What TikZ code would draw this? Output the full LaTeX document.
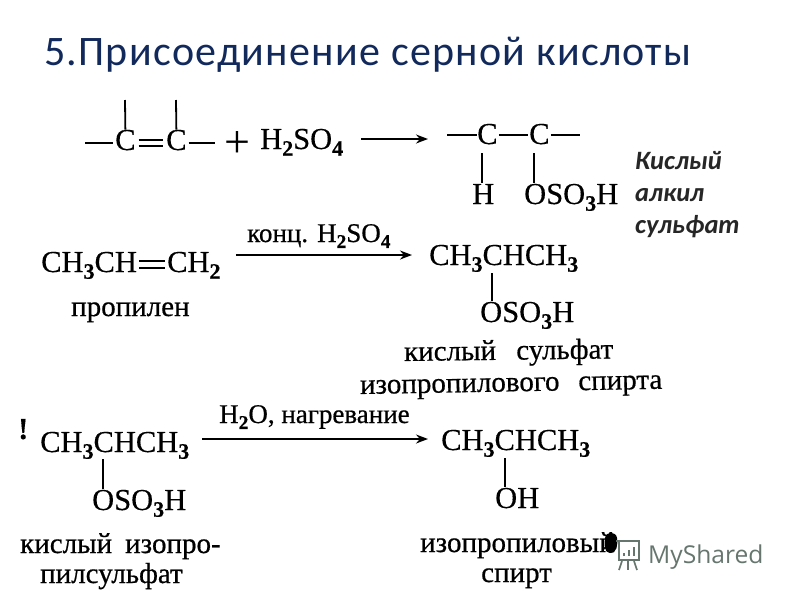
\documentclass[tikz,border=0pt]{standalone}
\usepackage{fontspec}
\setmainfont{Liberation Serif}
\newfontfamily\titlefont[LetterSpace=3]{Carlito}
\newfontfamily\notefont[BoldFont=Carlito Bold]{Carlito}
\newfontfamily\wmfont{Open Sans}
\newfontfamily\labelfont[FakeBold=0.6]{Liberation Serif}
\newfontfamily\formfont[FakeBold=0.35]{Liberation Serif}
\newcommand{\chemsub}[1]{\raisebox{-0.22em}{\scalebox{0.72}{\textbf{#1}}}}
\definecolor{titleblue}{HTML}{12295C}
\definecolor{wmgray}{HTML}{66766F}
\tikzset{
  form/.style={anchor=base west,inner sep=0pt,font=\formfont\fontsize{30.5}{32}\selectfont,text=black},
  lab/.style={anchor=base west,inner sep=0pt,font=\labelfont\fontsize{29}{32}\selectfont,text=black},
  cond/.style={anchor=base west,inner sep=0pt,font=\labelfont\fontsize{27}{30}\selectfont,text=black},
  note/.style={anchor=base west,inner sep=0pt,font=\notefont\bfseries\itshape\fontsize{26.5}{28}\selectfont,text=black!85},
  bond/.style={line width=1.8pt,black},
  react/.style={line width=1.6pt,black,-{Stealth[length=12pt,width=9pt]}},
}
\usetikzlibrary{arrows.meta}
\begin{document}
\begin{tikzpicture}[x=1pt,y=-1pt]
\useasboundingbox[fill=white] (0,0) rectangle (800,600);
\node[anchor=base west,inner sep=0pt,font=\titlefont\fontsize{42}{45}\selectfont,text=titleblue] (title) at (44,65) {5.Присоединение серной кислоты};

% --- general equation
\node[form] (c1) at (115,150) {C};
\node[form] (c2) at (166,150) {C};
\node[anchor=base west,inner sep=0pt,font=\fontsize{46}{46}\selectfont] (plus) at (224,157) {+};
\node[form] (acid) at (260,149) {H\chemsub{2}SO\chemsub{4}};
\node[form] (c3) at (477,144) {C};
\node[form] (c4) at (529,144) {C};
\node[form] (hh) at (472,204) {H};
\node[form] (oso1) at (524,204) {OSO\chemsub{3}H};
\coordinate (c1top) at (125,100);
\coordinate (c2top) at (176,100);
\coordinate (c1left) at (85,143);
\coordinate (c2right) at (215,143);
\coordinate (c3left) at (447,135);
\coordinate (c4right) at (580,135);
\draw[bond] (c1left) -- ([shift={(-2,-7)}]c1.base west);
\draw[bond] (c1.north) -- (c1top);
\draw[bond] (c2.north) -- (c2top);
\draw[bond] ([shift={(3,-10)}]c1.base east) -- ([shift={(-3,-10)}]c2.base west);
\draw[bond] ([shift={(3,-4)}]c1.base east) -- ([shift={(-3,-4)}]c2.base west);
\draw[bond] ([shift={(2,-7)}]c2.base east) -- (c2right);
\draw[react] ([shift={(18,-10)}]acid.base east) -- ([shift={(-49,-5)}]c3.base west);
\draw[bond] (c3left) -- ([shift={(0,-9)}]c3.base west);
\draw[bond] ([shift={(1,-9)}]c3.base east) -- ([shift={(-1,-9)}]c4.base west);
\draw[bond] ([shift={(1,-9)}]c4.base east) -- (c4right);
\draw[bond] ([shift={(5,9)}]c3.base west) -- ([shift={(10,-1)}]hh.north west);
\draw[bond] ([shift={(5,9)}]c4.base west) -- ([shift={(10,-1)}]oso1.north west);
\node[note] (n1) at (635,169) {Кислый};
\node[note] (n2) at (635,201) {алкил};
\node[note] (n3) at (635,233) {сульфат};

% --- propylene
\node[form] (pr1) at (41,272) {CH\chemsub{3}CH};
\node[form] (pr2) at (167,272) {CH\chemsub{2}};
\node[lab] (pr3) at (71,316) {пропилен};
\node[cond] (cond1) at (247,242) {конц. H\chemsub{2}SO\chemsub{4}};
\node[form] (sul) at (429,265) {CH\chemsub{3}CHCH\chemsub{3}};
\node[form] (oso2) at (480,322) {OSO\chemsub{3}H};
\node[lab,rotate=0.7] (sul1) at (404,361) {кислый\hspace{0.7em}сульфат};
\node[lab,rotate=1] (sul2) at (360,394) {изопропилового\hspace{0.65em}спирта};
\draw[bond] ([shift={(2,-11)}]pr1.base east) -- ([shift={(-2,-11)}]pr2.base west);
\draw[bond] ([shift={(2,-4)}]pr1.base east) -- ([shift={(-2,-4)}]pr2.base west);
\draw[react] ([shift={(15,-17)}]pr2.base east) -- ([shift={(-17,-10)}]sul.base west);
\draw[bond] ([shift={(63,8)}]sul.base west) -- ([shift={(12,-1)}]oso2.north west);

% --- hydrolysis
\node[form] (ex) at (18,439) {\textbf{!}};
\node[form] (iso) at (40,452) {CH\chemsub{3}CHCH\chemsub{3}};
\node[form] (oso3) at (92,510) {OSO\chemsub{3}H};
\node[lab] (iso1) at (20,553) {кислый\hspace{0.45em}изопро-};
\node[lab] (iso2) at (40,583) {пилсульфат};
\node[cond] (cond2) at (219,423) {H\chemsub{2}O, нагревание};
\node[form] (alc) at (441,450) {CH\chemsub{3}CHCH\chemsub{3}};
\node[form] (oh) at (495,508) {OH};
\node[lab] (alc1) at (420,552) {изопропиловый};
\node[lab] (alc2) at (481,582) {спирт};
\draw[react] ([shift={(13,-13)}]iso.base east) -- ([shift={(-13,-11)}]alc.base west);
\draw[bond] ([shift={(63,7)}]iso.base west) -- ([shift={(11,-1)}]oso3.north west);
\draw[bond] ([shift={(64,8)}]alc.base west) -- ([shift={(10,-1)}]oh.north west);

% --- ink blot on the last letter, and watermark
\fill[black] (605,538) .. controls (606,531) and (616,531) .. (617,538) .. controls (618,545) and (617,553) .. (610,553) .. controls (604,553) and (604,544) .. (605,538) -- cycle;
\node[anchor=base west,inner sep=0pt,font=\wmfont\fontsize{24.6}{28}\selectfont,text=wmgray] (wm) at (648,563) {MyShared};
\begin{scope}[wmgray,line width=1.7pt]
\draw (616,541) -- (640,541);
\draw (619,542) -- (619,560) -- (639,560) -- (639,542);
\draw (622,561) -- (619,570);
\draw (628,561) -- (628,570);
\draw (634,561) -- (637,570);
\draw[line width=2.4pt] (624,556) -- (624,553) (629,556) -- (629,550) (634,556) -- (634,547);
\end{scope}
\end{tikzpicture}
\end{document}
